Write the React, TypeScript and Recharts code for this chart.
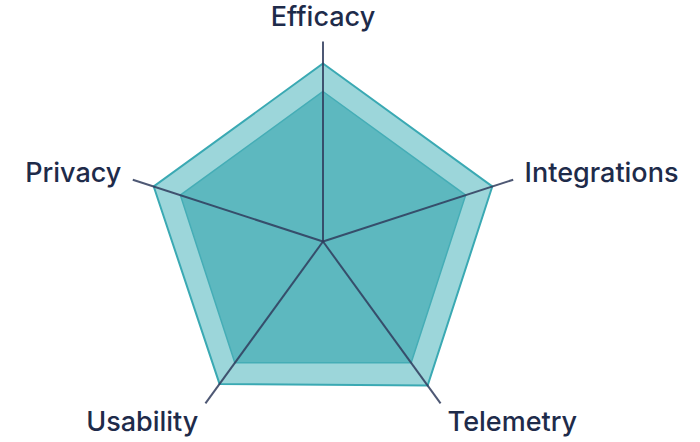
import { PolarAngleAxis, PolarGrid, PolarRadiusAxis, Radar, RadarChart } from 'recharts';

const axes = ['Efficacy', 'Integrations', 'Telemetry', 'Usability', 'Privacy'];
const outerScores = [89, 89, 89, 88, 89];
const innerScores = [75, 75, 75, 75, 75];

const data = axes.map((axis, i) => ({ axis, outer: outerScores[i], inner: innerScores[i] }));

const CX = 323;
const CY = 241.5;
const R = 200;

function AxisLabel(props: any) {
  const angle = (props.payload.coordinate * Math.PI) / 180;
  const cos = Math.cos(angle);
  const sin = Math.sin(angle);
  const x = CX + (R + 12) * cos;
  const y = CY - (R + 12) * sin;
  const anchor = Math.abs(cos) < 0.1 ? 'middle' : cos > 0 ? 'start' : 'end';
  const dy = sin > 0.9 ? -4 : sin < -0.5 ? 18 : 6.5;
  return (
    <text x={x} y={y + dy} textAnchor={anchor} fill="#1e2b4a" fontSize={27} fontWeight={500} fontFamily="Inter, sans-serif">
      {props.payload.value}
    </text>
  );
}

export default function App() {
  const gridProps: any = { zIndex: 1000 };
  return (
    <div style={{ position: 'fixed', left: 0, top: 0, width: 700, height: 442, background: '#fff' }}>
      <RadarChart width={700} height={442} data={data} cx={CX} cy={CY} outerRadius={R} margin={{ top: 0, right: 0, bottom: 0, left: 0 }}>
        <PolarAngleAxis dataKey="axis" tick={AxisLabel} tickLine={false} axisLine={false} />
        <PolarRadiusAxis domain={[0, 100]} tick={false} axisLine={false} />
        <Radar dataKey="outer" stroke="#3aa9b3" strokeWidth={2} fill="#3aaeb6" fillOpacity={0.5} isAnimationActive={false} />
        <Radar dataKey="inner" stroke="#45adb6" strokeWidth={1.5} fill="#2aa0aa" fillOpacity={0.55} isAnimationActive={false} />
        <PolarGrid polarRadius={[]} stroke="#2f3b5c" strokeWidth={2} strokeOpacity={0.85} {...gridProps} />
      </RadarChart>
    </div>
  );
}
